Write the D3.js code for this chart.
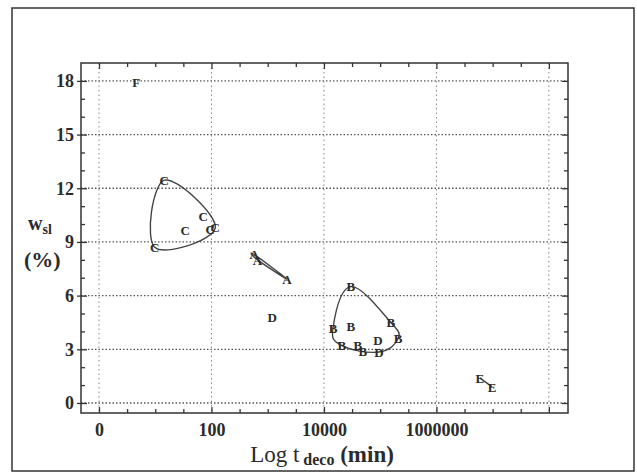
<!DOCTYPE html>
<html>
<head>
<meta charset="utf-8">
<script src="https://cdn.jsdelivr.net/npm/d3@7"></script>
<style>
body { margin: 0; background: #fff; }
</style>
</head>
<body>
<div class="chart"></div>
<script>
// axis ticks
var xTicks = [1, 100, 10000, 1000000, 100000000];
var xTickLabels = ["0", "100", "10000", "1000000", ""];
var yTicks = [0, 3, 6, 9, 12, 15, 18];

// series, one letter per sample
var fX = [4.6];
var fY = [17.9];
var fLabel = ["F"];

var cX = [14.5, 9.8, 34, 71, 95, 117];
var cY = [12.45, 8.7, 9.66, 10.45, 9.7, 9.8];
var cLabel = ["C", "C", "C", "C", "C", "C"];

var aX = [575, 660, 2190];
var aY = [8.3, 8.0, 6.93];
var aLabel = ["A", "A", "A"];

var dX = [1200];
var dY = [4.8];
var dLabel = ["D"];

var bX = [30200, 14500, 30200, 155000, 208000, 20900, 40000, 49000, 91000, 95000];
var bY = [6.5, 4.2, 4.3, 4.5, 3.6, 3.2, 3.2, 2.9, 3.5, 2.85];
var bLabel = ["B", "B", "B", "B", "B", "B", "B", "B", "D", "D"];

var eX = [5.9e6, 9.8e6];
var eY = [1.4, 0.9];
var eLabel = ["E", "E"];

var groups = [
    { x: fX, y: fY, label: fLabel, loop: false },
    { x: cX, y: cY, label: cLabel, loop: true },
    { x: aX, y: aY, label: aLabel, loop: true },
    { x: dX, y: dY, label: dLabel, loop: false },
    { x: bX, y: bY, label: bLabel, loop: true },
    { x: eX, y: eY, label: eLabel, loop: true }
];

var width = 637;
var height = 473;
var pLeft = 81, pRight = 568, pTop = 63, pBottom = 413;
var font = "'Liberation Serif', 'Times New Roman', serif";
var ink = "#2b2b2b";

var x = d3.scaleLog().domain([Math.pow(10, -0.32), Math.pow(10, 8.34)]).range([pLeft, pRight]);
var y = d3.scaleLinear().domain([-0.56, 19.0]).range([pBottom, pTop]);

var svg = d3.select(".chart").append("svg")
    .attr("width", width)
    .attr("height", height)
    .style("font-family", font);

// outer border
svg.append("rect")
    .attr("x", 12).attr("y", 8)
    .attr("width", 622).attr("height", 463)
    .attr("fill", "none")
    .attr("stroke", "#333")
    .attr("stroke-width", 1.5);

// grid
svg.append("g").selectAll("line")
    .data(yTicks)
    .enter().append("line")
    .attr("x1", pLeft).attr("x2", pRight)
    .attr("y1", function (d) { return y(d); })
    .attr("y2", function (d) { return y(d); })
    .attr("stroke", "#555")
    .attr("stroke-width", 1.3)
    .attr("stroke-dasharray", "1.5,2");

svg.append("g").selectAll("line")
    .data(xTicks)
    .enter().append("line")
    .attr("y1", pTop).attr("y2", pBottom)
    .attr("x1", function (d) { return x(d); })
    .attr("x2", function (d) { return x(d); })
    .attr("stroke", "#888")
    .attr("stroke-width", 1)
    .attr("stroke-dasharray", "1.5,3");

// minor tick positions
var xMinor = [];
for (var k = 0; k <= 16; k++) {
    if (k % 4 != 0) xMinor.push(Math.pow(10, k / 2));
}
var yMinor = d3.range(0, 19).filter(function (d) { return d % 3 != 0; });

function styleAxis(g) {
    g.select(".domain").remove();
    g.selectAll("line").attr("stroke", "#333").attr("stroke-width", 1.3);
    g.selectAll("text")
        .attr("fill", ink)
        .style("font-family", font)
        .style("font-weight", "bold")
        .style("font-size", "18px");
}

// bottom and top
svg.append("g").attr("transform", "translate(0," + pBottom + ")")
    .call(d3.axisBottom(x).tickValues(xTicks).tickSize(-6).tickPadding(10)
        .tickFormat(function (d, i) { return xTickLabels[i]; }))
    .call(styleAxis);
svg.append("g").attr("transform", "translate(0," + pBottom + ")")
    .call(d3.axisBottom(x).tickValues(xMinor).tickSize(-4).tickFormat(""))
    .call(styleAxis);
svg.append("g").attr("transform", "translate(0," + pTop + ")")
    .call(d3.axisTop(x).tickValues(xTicks).tickSize(-6).tickFormat(""))
    .call(styleAxis);
svg.append("g").attr("transform", "translate(0," + pTop + ")")
    .call(d3.axisTop(x).tickValues(xMinor).tickSize(-4).tickFormat(""))
    .call(styleAxis);

// left and right
svg.append("g").attr("transform", "translate(" + pLeft + ",0)")
    .call(d3.axisLeft(y).tickValues(yTicks).tickSize(4).tickPadding(3))
    .call(styleAxis);
svg.append("g").attr("transform", "translate(" + pLeft + ",0)")
    .call(d3.axisLeft(y).tickValues(yTicks).tickSize(-6).tickFormat(""))
    .call(styleAxis);
svg.append("g").attr("transform", "translate(" + pLeft + ",0)")
    .call(d3.axisLeft(y).tickValues(yMinor).tickSize(-4).tickFormat(""))
    .call(styleAxis);
svg.append("g").attr("transform", "translate(" + pRight + ",0)")
    .call(d3.axisRight(y).tickValues(yTicks).tickSize(-6).tickFormat(""))
    .call(styleAxis);
svg.append("g").attr("transform", "translate(" + pRight + ",0)")
    .call(d3.axisRight(y).tickValues(yMinor).tickSize(-4).tickFormat(""))
    .call(styleAxis);

// frame
svg.append("rect")
    .attr("x", pLeft).attr("y", pTop)
    .attr("width", pRight - pLeft).attr("height", pBottom - pTop)
    .attr("fill", "none")
    .attr("stroke", "#333")
    .attr("stroke-width", 1.5);

// drop hull corners that sit almost on the chord of their neighbours
function simplify(hull) {
    if (hull.length <= 3) return hull;
    var out = hull.filter(function (p, i) {
        var a = hull[(i - 1 + hull.length) % hull.length];
        var b = hull[(i + 1) % hull.length];
        var dx = b[0] - a[0], dy = b[1] - a[1];
        var len = Math.sqrt(dx * dx + dy * dy) || 1;
        var dist = Math.abs((p[0] - a[0]) * dy - (p[1] - a[1]) * dx) / len;
        return dist > 3;
    });
    return out.length >= 3 ? out : hull;
}

// loops round each group
var loopLine = d3.line().curve(d3.curveCardinalClosed.tension(-0.15));

groups.forEach(function (g) {
    var pts = g.x.map(function (v, i) { return [x(v), y(g.y[i])]; });
    if (g.loop) {
        var hull = pts.length >= 3 ? simplify(d3.polygonHull(pts)) : pts;
        svg.append("path")
            .attr("d", loopLine(hull))
            .attr("fill", "none")
            .attr("stroke", "#444")
            .attr("stroke-width", 1.4);
    }
    svg.append("g").selectAll("text")
        .data(pts)
        .enter().append("text")
        .attr("x", function (d) { return d[0]; })
        .attr("y", function (d) { return d[1]; })
        .attr("dy", "0.36em")
        .attr("text-anchor", "middle")
        .attr("fill", ink)
        .style("font-weight", "bold")
        .style("font-size", "13px")
        .text(function (d, i) { return g.label[i]; });
});

// axis titles
var xt = svg.append("text")
    .attr("x", 322).attr("y", 462)
    .attr("text-anchor", "middle")
    .attr("fill", ink)
    .style("font-size", "23px");
xt.append("tspan").text("Log t");
xt.append("tspan").attr("dy", 3).style("font-size", "16px").style("font-weight", "bold").text(" deco");
xt.append("tspan").attr("dy", -3).style("font-weight", "bold").text(" (min)");

var yt = svg.append("text")
    .attr("x", 28).attr("y", 230)
    .attr("fill", ink)
    .style("font-weight", "bold")
    .style("font-size", "20px");
yt.append("tspan").text("w");
yt.append("tspan").attr("dy", 4).style("font-size", "14px").text("sl");

svg.append("text")
    .attr("x", 24).attr("y", 267)
    .attr("fill", ink)
    .style("font-weight", "bold")
    .style("font-size", "22px")
    .text("(%)");
</script>
</body>
</html>
